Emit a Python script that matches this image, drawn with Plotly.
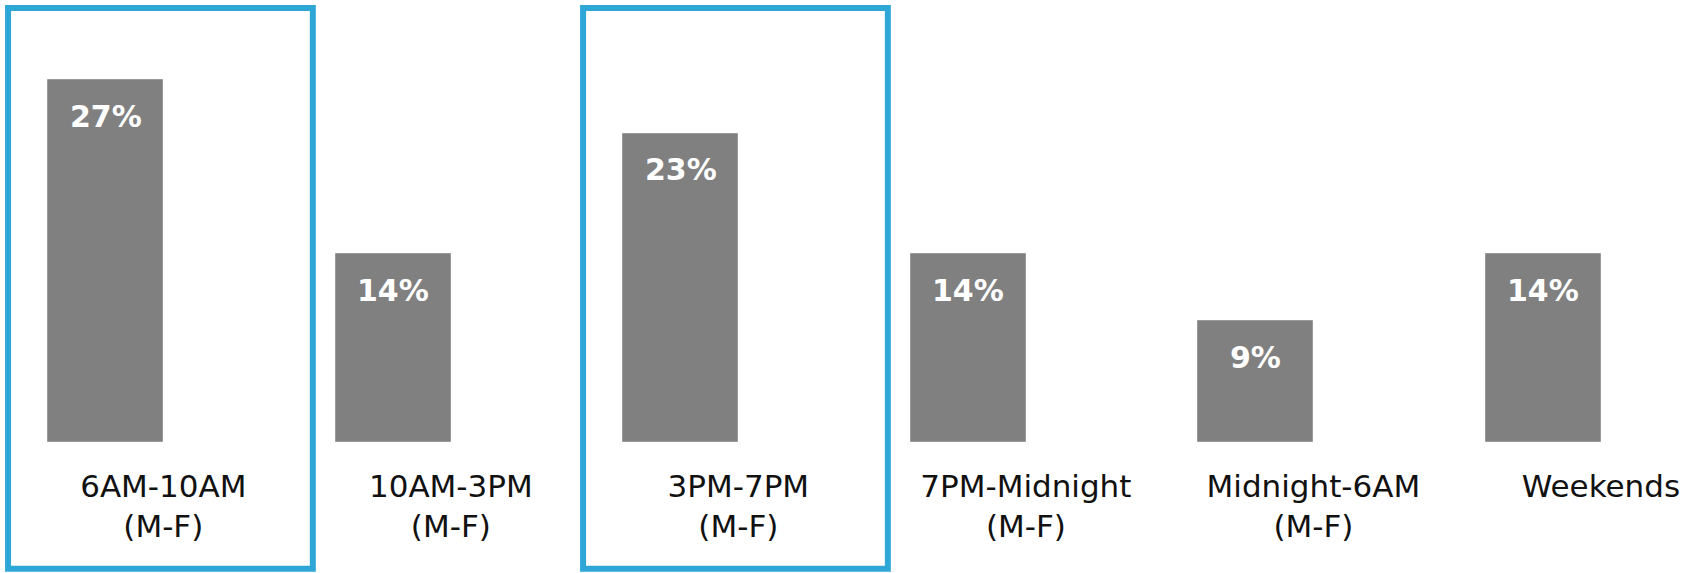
import plotly.graph_objects as go

# Share of listening by daypart
dayparts = ["6AM-10AM<br>(M-F)", "10AM-3PM<br>(M-F)", "3PM-7PM<br>(M-F)",
            "7PM-Midnight<br>(M-F)", "Midnight-6AM<br>(M-F)", "Weekends"]
shares = [27, 14, 23, 14, 9, 14]
highlighted = [0, 2]  # dayparts framed with a blue box

positions = list(range(len(dayparts)))

BAR_GRAY = "#808080"
FRAME_BLUE = "#2EA7D7"
FONT = "DejaVu Sans, Century Gothic, sans-serif"

fig = go.Figure()

fig.add_trace(go.Bar(
    x=positions,
    y=shares,
    width=0.4,
    offset=-0.4,
    marker=dict(color=BAR_GRAY, line=dict(color="#9a9a9a", width=1)),
    hoverinfo="skip",
    showlegend=False,
))

# value labels inside the top of each bar
for p, v in zip(positions, shares):
    fig.add_annotation(
        x=p - 0.2, y=v, xref="x", yref="y",
        text=f"<b>{v}%</b>", showarrow=False,
        yanchor="middle", yshift=-36,
        font=dict(family=FONT, size=30, color="white"),
    )

# frames around highlighted dayparts
for p in highlighted:
    fig.add_shape(
        type="rect", xref="x", yref="paper",
        x0=p - 0.54, x1=p + 0.52, y0=-0.2866, y1=0.982,
        line=dict(color=FRAME_BLUE, width=6),
        fillcolor="rgba(0,0,0,0)",
    )

fig.update_layout(
    width=1688, height=573,
    margin=dict(l=0, r=0, t=0, b=131),
    paper_bgcolor="white", plot_bgcolor="white",
    bargap=0,
    xaxis=dict(
        range=[-0.568, 5.303],
        tickmode="array", tickvals=positions, ticktext=dayparts,
        ticks="", showgrid=False, zeroline=False, showline=False,
        tickfont=dict(family=FONT, size=31, color="#111111"),
        ticklabelstandoff=23,
    ),
    yaxis=dict(
        range=[0, 33.0], visible=False, showgrid=False, zeroline=False,
    ),
)

fig.write_html("out.html")
